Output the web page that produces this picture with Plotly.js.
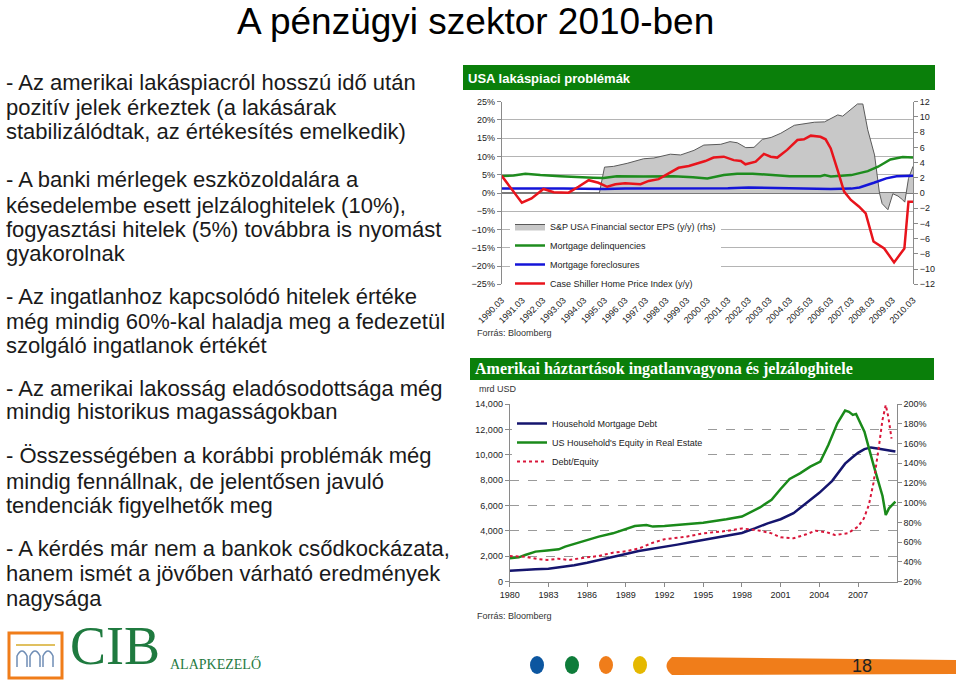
<!DOCTYPE html>
<html>
<head>
<meta charset="utf-8">
<script src="https://cdn.plot.ly/plotly-3.0.1.min.js"></script>
<style>
html,body{margin:0;padding:0;background:#fff;}
#chart{width:960px;height:680px;}
</style>
</head>
<body>
<div id="chart"></div>
<script>
// ---------- Top chart data (quarterly) ----------
const topTickVals = [1990,1991,1992,1993,1994,1995,1996,1997,1998,1999,2000,2001,2002,2003,2004,2005,2006,2007,2008,2009,2010];
const topTickText = ["1990.03","1991.03","1992.03","1993.03","1994.03","1995.03","1996.03","1997.03","1998.03","1999.03","2000.03","2001.03","2002.03","2003.03","2004.03","2005.03","2006.03","2007.03","2008.03","2009.03","2010.03"];

const epsYears = [1994.75,1995.0,1995.44,1996.1,1996.9,1997.4,1998.2,1998.7,1999.35,1999.83,2000.65,2001.1,2001.46,2001.87,2002.27,2002.68,2003.1,2003.57,2004.23,2004.7,2005.2,2005.7,2006.0,2006.34,2006.58,2007.0,2007.3,2007.56,2007.8,2008.13,2008.37,2008.5,2008.78,2009.02,2009.27,2009.5,2009.6,2009.78,2010.0];
const epsValues = [0,3.4,3.5,3.9,4.5,4.6,5.1,5.0,5.6,6.3,6.4,6.75,6.6,5.96,6.0,7.06,7.3,7.85,8.9,9.1,9.3,9.35,9.8,10.26,10.1,11.1,11.7,11.7,8.3,5.0,0,-1.4,-2.2,-0.1,-0.4,-0.9,-1.2,1.9,3.5];

const delinqYears = [1990.0,1990.58,1991.15,1991.88,1992.85,1993.65,1994.45,1994.95,1995.6,1996.9,1998.35,1999.3,2000.0,2000.8,2001.45,2002.2,2003.1,2004.0,2005.5,2005.7,2006.0,2007.0,2007.8,2008.3,2008.9,2009.5,2010.0];
const delinqValues = [4.65,4.8,5.3,4.9,4.6,4.3,4.2,4.1,4.6,4.5,4.6,4.3,4.0,4.9,5.3,5.3,4.9,4.6,4.6,4.9,4.5,4.9,6.0,7.2,9.2,9.85,9.7];

const foreclYears = [1990,1991,1992,1993,1994,1995,1996,1997,1998,1999,2000,2001,2002,2003,2004,2005,2006,2007,2007.4,2008.1,2008.7,2009.2,2010.0];
const foreclValues = [1.2,1.1,1.2,1.2,1.1,1.1,1.2,1.2,1.3,1.3,1.2,1.3,1.5,1.4,1.3,1.1,1.1,1.2,1.5,2.8,4.0,4.6,4.75];

const csYears = [1990.0,1990.98,1991.45,1992.03,1992.53,1993.25,1993.73,1994.23,1994.7,1995.13,1995.53,1996.0,1996.75,1997.15,1997.63,1998.13,1998.6,1999.1,1999.58,1999.9,2000.3,2000.8,2001.28,2001.63,2001.85,2002.35,2002.75,2003.08,2003.4,2003.88,2004.38,2004.7,2005.03,2005.5,2005.75,2006.0,2006.33,2006.65,2006.98,2007.38,2007.7,2008.08,2008.6,2009.08,2009.58,2009.78,2010.0];
const csValues = [4.7,-2.65,-1.5,1.1,0.2,0.1,1.7,3.5,2.8,1.7,2.4,2.65,2.4,3.3,3.8,5.4,6.9,7.4,8.1,8.75,9.7,9.95,9.0,8.75,7.85,8.6,10.7,9.95,9.7,11.8,14.5,14.7,15.7,15.4,14.7,12.2,6.3,0.4,-1.9,-3.75,-5.6,-13.3,-15.2,-19,-15.2,-2.4,-2.4];

// ---------- Bottom chart data ----------
const botTickVals = [1980,1983,1986,1989,1992,1995,1998,2001,2004,2007];

const debtYears = [1980,1981,1982,1983,1984,1985,1986,1987,1988,1989,1990,1991,1992,1993,1994,1995,1996,1997,1998,1999,2000,2001,2002,2003,2004,2005,2005.5,2006,2006.5,2007,2007.5,2008,2008.5,2009,2009.5,2009.9];
const debtValues = [870,950,990,1020,1150,1300,1500,1720,1920,2180,2420,2570,2760,2920,3100,3290,3460,3650,3840,4200,4600,4920,5400,6200,7000,7950,8600,9300,9750,10150,10450,10580,10500,10400,10350,10250];

const equityYears = [1980,1980.7,1981.2,1982,1982.9,1983.8,1984.3,1985.1,1986,1986.9,1988,1989,1989.7,1990.6,1991.1,1992,1993.7,1995,1996.8,1998,1999.4,2000.3,2001,2001.7,2002.5,2003.3,2004.08,2004.7,2005.4,2006.0,2006.3,2006.6,2006.85,2007.5,2008.2,2008.9,2009.15,2009.4,2009.9];
const equityValues = [1840,1920,2100,2370,2450,2550,2760,3020,3290,3550,3810,4130,4390,4470,4340,4390,4550,4650,4920,5130,5850,6450,7300,8100,8540,9060,9460,10770,12480,13480,13380,13140,13220,11820,9200,6750,5260,5780,6300];

const ratioYears = [1980,1981.2,1982.3,1982.9,1983.8,1984.6,1986,1986.9,1988,1989,1990.05,1991.1,1992,1993.7,1995,1996.8,1998,1998.9,1999.4,2000.3,2001,2002,2003,2003.7,2004.6,2005.2,2006.2,2007,2007.45,2007.84,2008.2,2008.6,2008.9,2009.15,2009.35,2009.6];
const ratioValues = [46,45.3,42.7,42,43.3,42,44.7,46,49.4,50.8,53.8,59.5,63,65.6,69,71.4,74,73,71.7,69,65,64,68,71.7,70,67.3,69,75.7,84,97.7,120,155,184,199,187,165];

// ---------- Slide texts ----------
const slideTitle = "A pénzügyi szektor 2010-ben";
const bulletLines = [
  ["- Az amerikai lakáspiacról hosszú idő után", 82],
  ["pozitív jelek érkeztek (a lakásárak", 107],
  ["stabilizálódtak, az értékesítés emelkedik)", 131],
  ["- A banki mérlegek eszközoldalára a", 180],
  ["késedelembe esett jelzáloghitelek (10%),", 205],
  ["fogyasztási hitelek (5%) továbbra is nyomást", 229],
  ["gyakorolnak", 253],
  ["- Az ingatlanhoz kapcsolódó hitelek értéke", 296],
  ["még mindig 60%-kal haladja meg a fedezetül", 321],
  ["szolgáló ingatlanok értékét", 345],
  ["- Az amerikai lakosság eladósodottsága még", 388],
  ["mindig historikus magasságokban", 412],
  ["- Összességében a korábbi problémák még", 456],
  ["mindig fennállnak, de jelentősen javuló", 481],
  ["tendenciák figyelhetők meg", 505],
  ["- A kérdés már nem a bankok csődkockázata,", 548],
  ["hanem ismét a jövőben várható eredmények", 573],
  ["nagysága", 598]
];

// pixel -> paper helpers (margins are zero)
const W = 960, H = 680;
const px = x => x / W;
const py = y => 1 - y / H;
const pt = (x, y) => px(x).toFixed(5) + ',' + py(y).toFixed(5);

const SANS = "Liberation Sans, Arial, Helvetica, sans-serif";
const SERIF = "Liberation Serif, Times New Roman, serif";
const tickFont = {family: SANS, size: 9, color: '#222'};

const traces = [
  {x: epsYears, y: epsValues, xaxis: 'x', yaxis: 'y', type: 'scatter', mode: 'lines',
   name: 'S&P USA Financial sector EPS (y/y) (rhs)', fill: 'tozeroy', fillcolor: '#c8c8c8',
   line: {color: '#5a5a5a', width: 1}, legend: 'legend'},
  {x: delinqYears, y: delinqValues, xaxis: 'x', yaxis: 'y2', type: 'scatter', mode: 'lines',
   name: 'Mortgage delinquencies', line: {color: '#1e8c1e', width: 2.5}, legend: 'legend'},
  {x: foreclYears, y: foreclValues, xaxis: 'x', yaxis: 'y2', type: 'scatter', mode: 'lines',
   name: 'Mortgage foreclosures', line: {color: '#1414d8', width: 2.5}, legend: 'legend'},
  {x: csYears, y: csValues, xaxis: 'x', yaxis: 'y2', type: 'scatter', mode: 'lines',
   name: 'Case Shiller Home Price Index (y/y)', line: {color: '#e8141c', width: 2.5}, legend: 'legend'},

  {x: debtYears, y: debtValues, xaxis: 'x2', yaxis: 'y3', type: 'scatter', mode: 'lines',
   name: 'Household Mortgage Debt', line: {color: '#15156e', width: 2.5}, legend: 'legend2'},
  {x: equityYears, y: equityValues, xaxis: 'x2', yaxis: 'y3', type: 'scatter', mode: 'lines',
   name: "US Household's Equity in Real Estate", line: {color: '#1a8a1a', width: 2.5}, legend: 'legend2'},
  {x: ratioYears, y: ratioValues, xaxis: 'x2', yaxis: 'y4', type: 'scatter', mode: 'lines',
   name: 'Debt/Equity', line: {color: '#d9163a', width: 2, dash: 'dot'}, legend: 'legend2'}
];

const annotations = [];
annotations.push({text: slideTitle, x: px(475), y: py(21), xanchor: 'center', yanchor: 'middle', borderpad: 0,
  font: {family: SANS, size: 37, color: '#000'}});
bulletLines.forEach(([t, y]) => annotations.push({text: t, x: px(4), y: py(y), xanchor: 'left', yanchor: 'middle',
  font: {family: SANS, size: 22, color: '#1a1a1a'}}));
annotations.push({text: '<b>USA lakáspiaci problémák</b>', x: px(466), y: py(78), xanchor: 'left', yanchor: 'middle',
  font: {family: SANS, size: 13, color: '#fff'}});
annotations.push({text: '<b>Amerikai háztartások ingatlanvagyona és jelzáloghitele</b>', x: px(473), y: py(369), xanchor: 'left', yanchor: 'middle',
  font: {family: SERIF, size: 16, color: '#fff'}});
annotations.push({text: 'Forrás: Bloomberg', x: px(475), y: py(333), xanchor: 'left', yanchor: 'middle', font: {family: SANS, size: 9, color: '#333'}});
annotations.push({text: 'Forrás: Bloomberg', x: px(475), y: py(616), xanchor: 'left', yanchor: 'middle', font: {family: SANS, size: 9, color: '#333'}});
annotations.push({text: 'mrd USD', x: px(477), y: py(389), xanchor: 'left', yanchor: 'middle', font: {family: SANS, size: 9, color: '#333'}});
annotations.push({text: 'CIB', x: px(68), y: py(678), xanchor: 'left', yanchor: 'bottom', font: {family: SERIF, size: 54, color: '#1f7a3f'}});
annotations.push({text: 'ALAPKEZELŐ', x: px(168), y: py(664), xanchor: 'left', yanchor: 'middle', font: {family: SERIF, size: 14, color: '#1f7a3f'}});
annotations.push({text: '18', x: px(862), y: py(666), xanchor: 'center', yanchor: 'middle', font: {family: SANS, size: 18, color: '#222'}});
annotations.forEach(a => { a.xref = 'paper'; a.yref = 'paper'; a.showarrow = false; });

const arch = (x0, x1) => 'M' + pt(x0, 667) + ' L' + pt(x0, 656) + ' Q' + pt((x0 + x1) / 2, 646) + ' ' + pt(x1, 656) + ' L' + pt(x1, 667);
const shapes = [
  {type: 'rect', x0: px(463), x1: px(935), y0: py(90), y1: py(65), fillcolor: '#0a7f0a', line: {width: 0}},
  {type: 'rect', x0: px(470), x1: px(934), y0: py(380), y1: py(358), fillcolor: '#0a7f0a', line: {width: 0}},
  // logo
  {type: 'rect', x0: px(9), x1: px(62), y0: py(678), y1: py(633), fillcolor: '#fff', line: {color: '#f07d1a', width: 3}},
  {type: 'line', x0: px(16), x1: px(55), y0: py(645), y1: py(645), line: {color: '#e0c060', width: 2}},
  {type: 'path', path: arch(17, 27), line: {color: '#6f8db5', width: 1.5}},
  {type: 'path', path: arch(30, 40), line: {color: '#6f8db5', width: 1.5}},
  {type: 'path', path: arch(43, 53), line: {color: '#6f8db5', width: 1.5}},
  // dots
  {type: 'circle', x0: px(530), x1: px(544), y0: py(674), y1: py(656), fillcolor: '#0c56a0', line: {width: 0}},
  {type: 'circle', x0: px(565), x1: px(579), y0: py(674), y1: py(656), fillcolor: '#0e7c3a', line: {width: 0}},
  {type: 'circle', x0: px(599), x1: px(613), y0: py(674), y1: py(656), fillcolor: '#f07d1a', line: {width: 0}},
  {type: 'circle', x0: px(633), x1: px(647), y0: py(674), y1: py(656), fillcolor: '#e5b800', line: {width: 0}},
  // orange brush band
  {type: 'path', path: 'M' + pt(672, 657) + ' L' + pt(956, 660) + ' L' + pt(956, 674) + ' L' + pt(672, 675) + ' Q' + pt(661, 666) + ' ' + pt(672, 657) + ' Z',
   fillcolor: '#f07d1a', line: {width: 0}}
];
shapes.forEach(s => { s.xref = 'paper'; s.yref = 'paper'; s.layer = 'above'; });

const layout = {
  width: W, height: H,
  margin: {l: 0, r: 0, t: 0, b: 0},
  paper_bgcolor: '#fff', plot_bgcolor: 'rgba(0,0,0,0)',
  showlegend: true,
  font: {family: SANS, size: 9, color: '#222'},
  // top chart
  xaxis: {domain: [px(501.7), px(913)], range: [1990, 2010], anchor: 'y',
    tickmode: 'array', tickvals: topTickVals, ticktext: topTickText, tickangle: -45,
    tickfont: tickFont, showgrid: false, showline: false, zeroline: false, ticks: '', ticklabelstandoff: 8},
  yaxis: {domain: [py(284.3), py(101.7)], range: [-12, 12], dtick: 2, side: 'right', anchor: 'x',
    showgrid: false, zeroline: false, showline: true, linecolor: '#8a8a8a', ticks: 'outside', ticklen: 4,
    tickcolor: '#8a8a8a', tickfont: tickFont},
  yaxis2: {overlaying: 'y', side: 'left', range: [-25, 25], dtick: 5, ticksuffix: '%', anchor: 'x',
    showgrid: true, gridcolor: '#b4b4b4', gridwidth: 1, zeroline: true, zerolinecolor: '#7a7a7a', zerolinewidth: 1.5,
    showline: true, linecolor: '#8a8a8a', ticks: 'outside', ticklen: 4, tickcolor: '#8a8a8a', tickfont: tickFont},
  // bottom chart
  xaxis2: {domain: [px(509.7), px(896.7)], range: [1980, 2010], anchor: 'y3',
    tickmode: 'array', tickvals: botTickVals, tickfont: tickFont, showgrid: false, zeroline: false,
    showline: true, linecolor: '#8a8a8a', ticks: 'outside', ticklen: 4, tickcolor: '#8a8a8a'},
  yaxis3: {domain: [py(581.7), py(404)], range: [0, 14000], dtick: 2000, tickformat: ',d', anchor: 'x2',
    showgrid: true, gridcolor: '#9a9a9a', griddash: 'dash', gridwidth: 1, zeroline: false,
    showline: true, linecolor: '#8a8a8a', ticks: 'outside', ticklen: 4, tickcolor: '#8a8a8a', tickfont: tickFont},
  yaxis4: {overlaying: 'y3', side: 'right', range: [20, 200], dtick: 20, ticksuffix: '%', anchor: 'x2',
    showgrid: false, zeroline: false, showline: true, linecolor: '#8a8a8a', ticks: 'outside', ticklen: 4,
    tickcolor: '#8a8a8a', tickfont: tickFont},
  legend: {x: px(510), y: py(212), xanchor: 'left', yanchor: 'top', bgcolor: '#fff', borderwidth: 0,
    font: {family: SANS, size: 9, color: '#222'}, itemwidth: 30, tracegroupgap: 0, traceorder: 'normal'},
  legend2: {x: px(512), y: py(409), xanchor: 'left', yanchor: 'top', bgcolor: '#fff', borderwidth: 0,
    font: {family: SANS, size: 9, color: '#222'}, itemwidth: 30, tracegroupgap: 0, traceorder: 'normal'},
  annotations: annotations,
  shapes: shapes
};

Plotly.newPlot('chart', traces, layout, {displayModeBar: false, staticPlot: true});
</script>
</body>
</html>
